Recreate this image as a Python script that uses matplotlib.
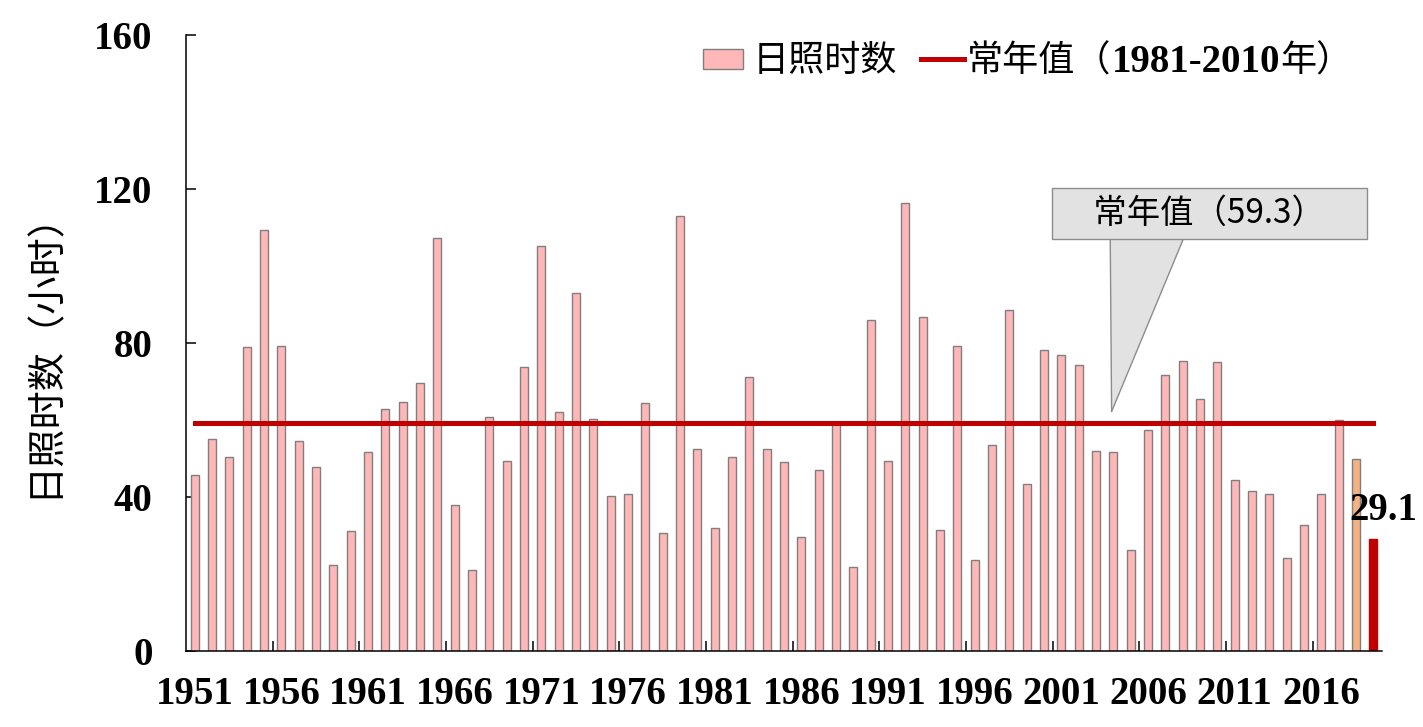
import numpy as np
import matplotlib
matplotlib.use("Agg")
import matplotlib.pyplot as plt
from matplotlib.offsetbox import AnchoredOffsetbox, HPacker, TextArea, DrawingArea
from matplotlib.patches import Rectangle
from matplotlib.lines import Line2D

# 数据：1951-2019 年日照时数（小时）
years = list(range(1951, 2020))
hours = [45.8, 55.2, 50.5, 79.1, 109.5, 79.4, 54.7, 47.9, 22.5, 31.3,
         51.8, 63.0, 64.8, 69.7, 107.4, 38.1, 21.2, 60.9, 49.5, 73.9,
         105.3, 62.2, 93.1, 60.4, 40.4, 40.9, 64.5, 30.8, 113.1, 52.6,
         32.1, 50.5, 71.3, 52.6, 49.2, 29.7, 47.1, 59.0, 21.9, 86.1,
         49.5, 116.5, 86.9, 31.6, 79.4, 23.8, 53.6, 88.7, 43.5, 78.3,
         77.0, 74.4, 52.1, 51.8, 26.4, 57.5, 71.8, 75.5, 65.6, 75.2,
         44.5, 41.7, 40.9, 24.3, 32.9, 40.9, 60.1, 50.0, 29.1]
normal = 59.3
tick_years = years[::5]

pink = '#FFB7B7'
grey = '#7F7F7F'
dark_red = '#C00000'
orange = '#F4B183'

CJK = 'Noto Sans CJK SC'
SERIF = 'Liberation Serif'

x = np.arange(len(years))
colors = [pink] * len(years)
colors[-2] = orange
colors[-1] = dark_red
edges = [grey] * len(years)
edges[-1] = dark_red

fig = plt.figure(figsize=(14.23, 7.27), dpi=100)
ax = fig.add_axes([0.1307, 0.1039, 0.8405, 0.8473])

ax.bar(x, hours, width=0.45, color=colors, edgecolor=edges, linewidth=1.0, zorder=2)
ax.plot([x[0], x[-1]], [normal, normal], color=dark_red, linewidth=3.6, zorder=3)

ax.set_xlim(-0.5, len(years) - 0.5)
ax.set_ylim(0, 160)

# 坐标轴
for s in ['top', 'right']:
    ax.spines[s].set_visible(False)
for s in ['left', 'bottom']:
    ax.spines[s].set_linewidth(1.1)

ax.set_xticks(np.arange(4.5, len(years) - 1, 5))
ax.set_xticks(x[::5], minor=True)
ax.set_xticklabels([str(y) for y in tick_years], minor=True,
                   fontsize=28, fontweight='bold', family=SERIF)
ax.tick_params(axis='x', which='major', direction='in', length=7, width=1.1, labelbottom=False)
ax.tick_params(axis='x', which='minor', length=0, pad=18)

ax.set_yticks([0, 40, 80, 120, 160])
ax.set_yticklabels(['0', '40', '80', '120', '160'], fontsize=28, fontweight='bold', family=SERIF)
ax.tick_params(axis='y', direction='in', length=7, width=1.1, pad=24)

ax.set_ylabel('日照时数（小时）', fontsize=27.5, family=CJK, va='center')
ax.yaxis.set_label_coords(-0.1187, 0.497)

# 最新值标注
ax.text(x[-1] + 0.55, hours[-1] + 5.1, f'{hours[-1]}', ha='center', va='baseline',
        fontsize=28, fontweight='bold', family=SERIF)

# 常年值标注框
ax.annotate('\u3000常年值（{}）\u3000'.format(normal), xy=(52.9, normal + 3), xytext=(58.55, 113.8),
            ha='center', va='center', fontsize=24, family=CJK,
            bbox=dict(boxstyle='square,pad=0.25', fc='#E2E2E2', ec='#8C8C8C', lw=1),
            arrowprops=dict(arrowstyle='wedge,tail_width=2.25', fc='#E2E2E2', ec='#8C8C8C', lw=1,
                            relpos=(0.29, 0), patchA=None, shrinkA=0, shrinkB=0))

# 图例
cjk_props = dict(family=CJK, fontsize=26)
serif_props = dict(family=SERIF, fontsize=28, fontweight='bold')

da_bar = DrawingArea(36, 17, 0, 0)
da_bar.add_artist(Rectangle((0, 2), 29, 14.4, fc=pink, ec=grey, lw=1))
da_line = DrawingArea(50, 17, 0, 0)
da_line.add_artist(Line2D([16.6, 48.2], [9, 9], color=dark_red, lw=3.6))

legend_box = HPacker(children=[da_bar,
                               TextArea('日照时数', textprops=cjk_props),
                               da_line,
                               TextArea('常年值（', textprops=cjk_props),
                               TextArea('1981-2010', textprops=serif_props),
                               TextArea('年）', textprops=cjk_props)],
                     align='baseline', pad=0, sep=0)
anchored = AnchoredOffsetbox(loc='center left', child=legend_box, pad=0, borderpad=0,
                             frameon=False, bbox_to_anchor=(703 / 1423, 1 - 62 / 727),
                             bbox_transform=fig.transFigure)
ax.add_artist(anchored)

fig.savefig('out.png', dpi=100)
